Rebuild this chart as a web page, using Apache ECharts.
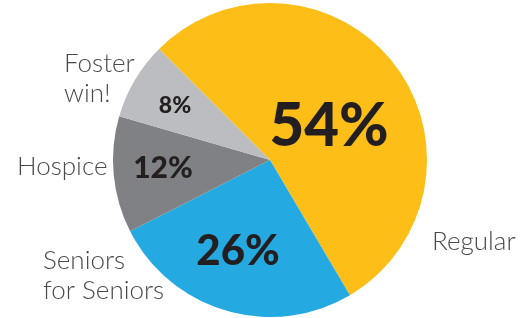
<!DOCTYPE html>
<html>
<head>
<meta charset="utf-8">
<script src="https://cdn.jsdelivr.net/npm/echarts@6/dist/echarts.min.js"></script>
<style>
  html, body { margin: 0; padding: 0; background: #fff; }
  #chart { width: 531px; height: 318px; }
</style>
</head>
<body>
<div id="chart"></div>
<script>
  // data
  var categories = ['Regular', 'Seniors\nfor Seniors', 'Hospice', 'Foster\nwin!'];
  var shares = [54, 26, 12, 8];
  var colors = ['#FDBE18', '#24A9E1', '#808184', '#BCBDC0'];

  // where the labels sit (pixels)
  var innerPos = [[329, 127], [238, 251], [163, 168], [175, 106]];
  var innerSize = [60, 42, 30, 23];
  var outerPos = [[432, 242], [43, 276], [17, 167], [64, 79]];

  var chart = echarts.init(document.getElementById('chart'));

  var pieData = categories.map(function (name, i) {
    return {
      name: name,
      value: shares[i],
      itemStyle: { color: colors[i] },
      label: { fontSize: innerSize[i] }
    };
  });

  chart.setOption({
    animation: false,
    series: [
      {
        type: 'pie',
        center: [270, 160],
        radius: 157,
        startAngle: 135,
        clockwise: true,
        silent: true,
        data: pieData,
        label: {
          position: 'inside',
          formatter: '{c}%',
          color: '#231F20',
          fontFamily: 'Lato',
          fontWeight: 900
        },
        labelLine: { show: false },
        labelLayout: function (p) {
          return { x: innerPos[p.dataIndex][0], y: innerPos[p.dataIndex][1], align: 'center', verticalAlign: 'middle' };
        }
      },
      {
        type: 'pie',
        center: [270, 160],
        radius: 157,
        startAngle: 135,
        silent: true,
        data: categories.map(function (name, i) { return { name: name, value: shares[i] }; }),
        itemStyle: { color: 'rgba(0,0,0,0)' },
        label: {
          position: 'outside',
          formatter: '{b}',
          color: '#4A4A4A',
          fontFamily: 'Lato',
          fontWeight: 300,
          fontSize: 26,
          lineHeight: 30,
          overflow: 'none'
        },
        labelLine: { show: false },
        labelLayout: function (p) {
          var i = p.dataIndex;
          return { x: outerPos[i][0], y: outerPos[i][1], align: 'left', verticalAlign: 'middle' };
        }
      }
    ]
  });
</script>
</body>
</html>
